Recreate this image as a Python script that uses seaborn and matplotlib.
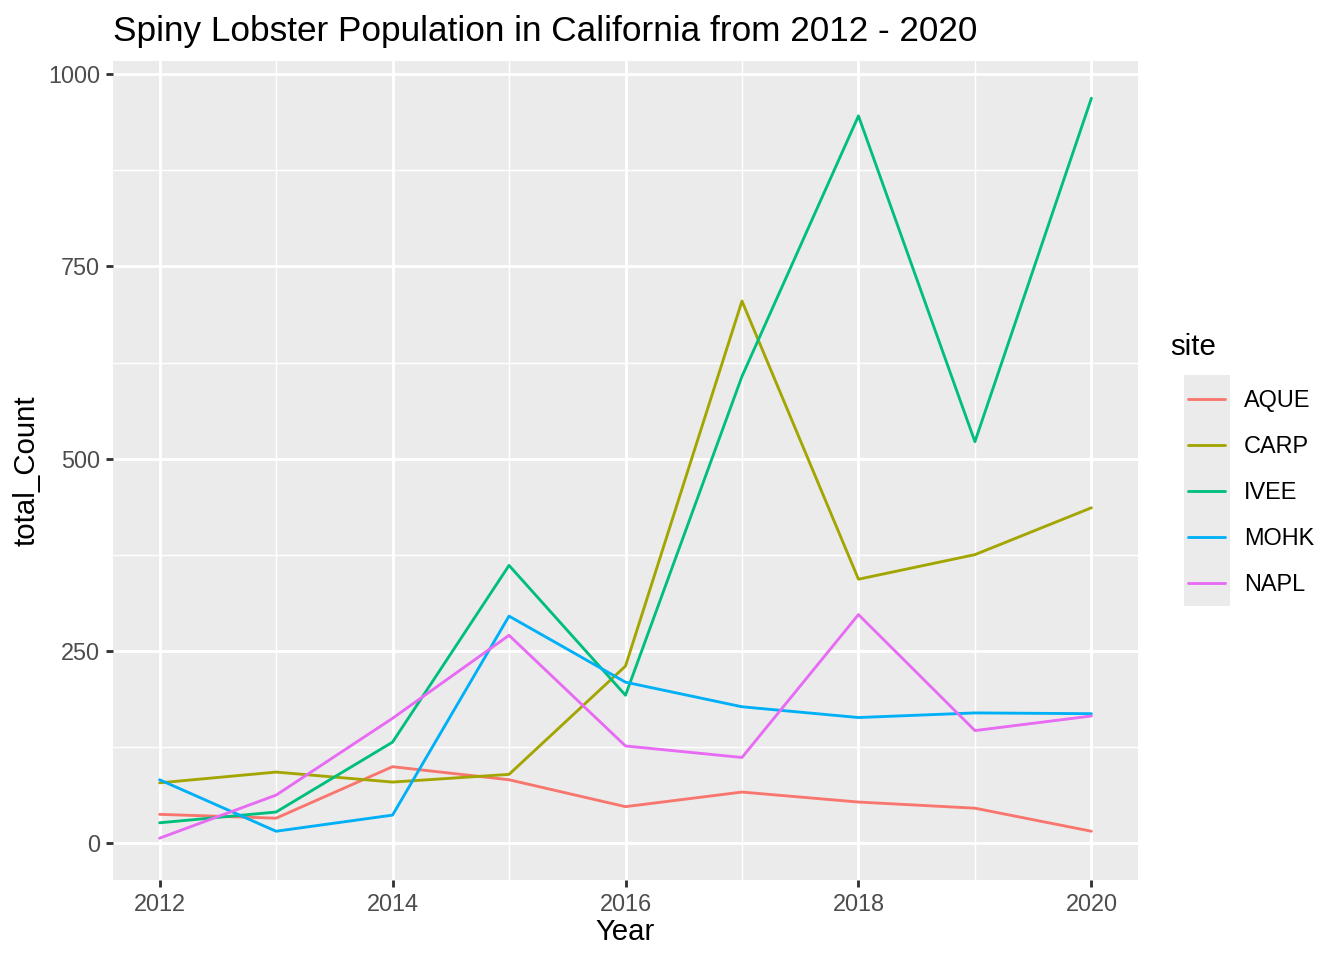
import pandas as pd
import seaborn as sns
import matplotlib.pyplot as plt
from matplotlib.patches import Rectangle

# counts
years = [2012, 2013, 2014, 2015, 2016, 2017, 2018, 2019, 2020]
aque = [37, 32, 99, 82, 47, 66, 53, 45, 15]
carp = [78, 92, 79, 89, 230, 705, 343, 375, 436]
ivee = [26, 40, 131, 361, 192, 607, 946, 522, 969]
mohk = [82, 15, 36, 295, 209, 177, 163, 169, 168]
napl = [6, 62, 162, 270, 126, 111, 297, 146, 165]

sites = ['AQUE', 'CARP', 'IVEE', 'MOHK', 'NAPL']
site_colors = ['#F8766D', '#A3A500', '#00BF7D', '#00B0F6', '#E76BF3']

df = pd.DataFrame({
    'year': years * 5,
    'site': [s for s in sites for _ in years],
    'total_Count': aque + carp + ivee + mohk + napl,
})

sns.set_style("darkgrid", {
    'axes.facecolor': '#EBEBEB',
    'grid.color': 'white',
    'axes.edgecolor': 'none',
})
plt.rcParams['font.family'] = ['Liberation Sans', 'DejaVu Sans']
plt.rcParams['text.color'] = 'black'

fig = plt.figure(figsize=(7, 5), dpi=192)
ax = fig.add_axes([113 / 1344, 80 / 960, 1025 / 1344, 819 / 960])

sns.lineplot(data=df, x='year', y='total_Count', hue='site',
             palette=dict(zip(sites, site_colors)), linewidth=1.07,
             ax=ax, legend=True)

# ggplot-like 5% expansion
xr = max(years) - min(years)
ymax = df['total_Count'].max()
ax.set_xlim(min(years) - 0.05 * xr, max(years) + 0.05 * xr)
ax.set_ylim(-0.05 * ymax, ymax * 1.05)

ax.set_xticks([2012, 2014, 2016, 2018, 2020])
ax.set_xticks([2013, 2015, 2017, 2019], minor=True)
ax.set_yticks([0, 250, 500, 750, 1000])
ax.set_yticks([125, 375, 625, 875], minor=True)
ax.grid(which='major', color='white', linewidth=1.07)
ax.grid(which='minor', color='white', linewidth=0.53)
ax.tick_params(which='major', length=2.75, width=1.07, color='#333333',
               labelsize=8.8, labelcolor='#4D4D4D', pad=2.2,
               bottom=True, left=True)
ax.tick_params(which='minor', length=0)

ax.set_xlabel('Year', fontsize=11, color='black', labelpad=0.5)
ax.set_ylabel('total_Count', fontsize=11, color='black', labelpad=2.8)
ax.set_title('Spiny Lobster Population in California from 2012 - 2020',
             loc='left', fontsize=13.2, pad=7.6, color='black')

# legend outside on the right, grey key background like ggplot
handles, labels = ax.get_legend_handles_labels()
ax.get_legend().remove()
fig.patches.append(Rectangle((1184 / 1344, 1 - 606 / 960), 46 / 1344, 231 / 960,
                             transform=fig.transFigure, facecolor='#EBEBEB',
                             edgecolor='none', zorder=0))
leg = fig.legend(handles, labels, loc='upper left',
                 bbox_to_anchor=(1188 / 1344, 1 - 389 / 960),
                 frameon=False, fontsize=8.8, handlelength=1.58,
                 handletextpad=0.8, labelspacing=0.98, borderpad=0,
                 borderaxespad=0)
fig.text(1170 / 1344, 1 - 347 / 960, 'site', fontsize=11, va='center', ha='left')

fig.savefig('out.png', dpi=192)
